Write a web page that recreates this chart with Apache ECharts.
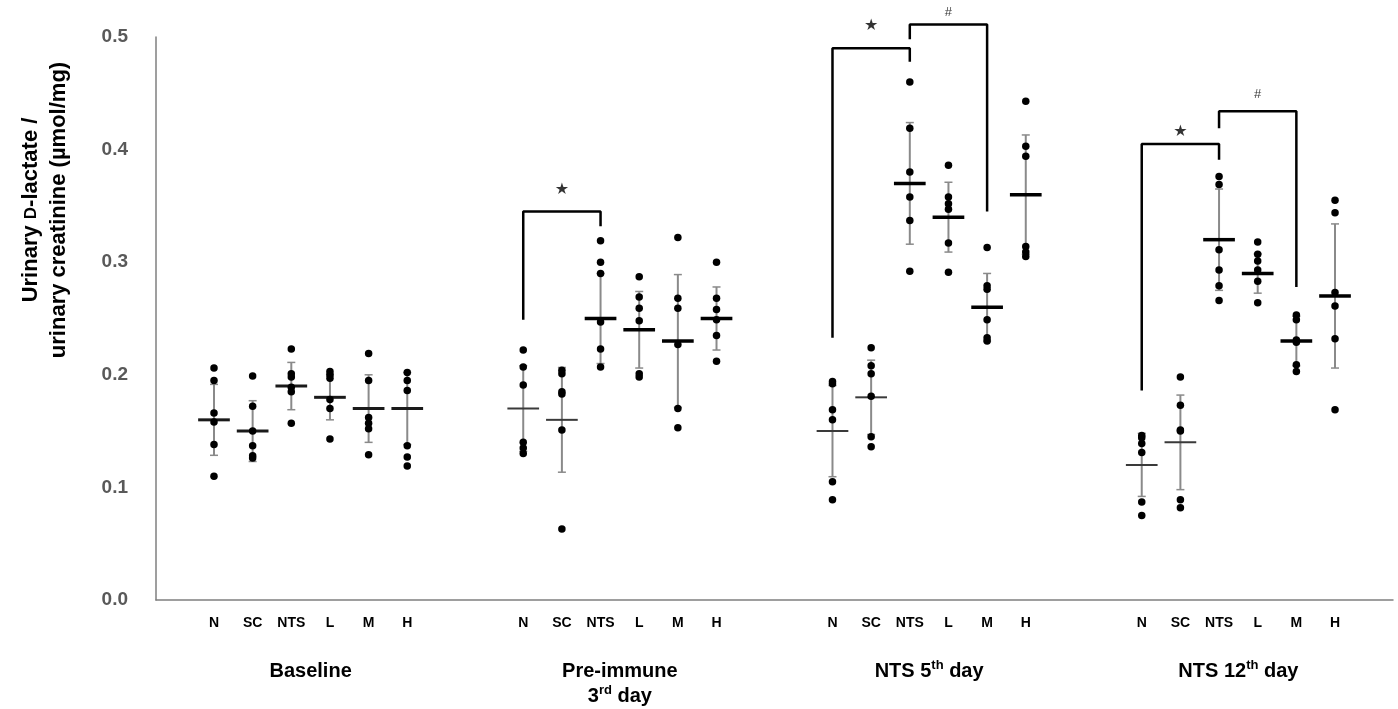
<!DOCTYPE html>
<html lang="en">
<head>
<meta charset="UTF-8">
<title>Urinary D-lactate</title>
<script src="https://cdn.jsdelivr.net/npm/echarts@6/dist/echarts.min.js"></script>
</head>
<body style="margin:0;background:#fff">
<div id="chart" style="width:1398px;height:709px;"></div>
<script type="text/javascript">
// group and column names
var groupNames = ['Baseline', 'Pre-immune\n3{sup|rd} day', 'NTS 5{sup|th} day', 'NTS 12{sup|th} day'];
var columnNames = ['N', 'SC', 'NTS', 'L', 'M', 'H'];

// mean and SD per column (N, SC, NTS, L, M, H) for each time point
var meanBaseline = [0.160, 0.150, 0.190, 0.180, 0.170, 0.170];
var sdBaseline   = [0.0315, 0.027, 0.021, 0.020, 0.030, 0.032];
var meanPre      = [0.170, 0.160, 0.250, 0.240, 0.230, 0.250];
var sdPre        = [0.038, 0.0465, 0.040, 0.034, 0.059, 0.028];
var meanDay5     = [0.150, 0.180, 0.370, 0.340, 0.260, 0.360];
var sdDay5       = [0.0405, 0.033, 0.054, 0.031, 0.030, 0.053];
var meanDay12    = [0.120, 0.140, 0.320, 0.290, 0.230, 0.270];
var sdDay12      = [0.028, 0.042, 0.045, 0.0175, 0.022, 0.064];

// individual animals
var dotsBaseline = [
	[0.206, 0.195, 0.166, 0.158, 0.138, 0.110],
	[0.199, 0.172, 0.150, 0.137, 0.128, 0.126],
	[0.223, 0.201, 0.198, 0.189, 0.185, 0.157],
	[0.203, 0.200, 0.197, 0.178, 0.170, 0.143],
	[0.219, 0.195, 0.162, 0.157, 0.152, 0.129],
	[0.202, 0.195, 0.186, 0.137, 0.127, 0.119]
];
var dotsPre = [
	[0.222, 0.207, 0.191, 0.140, 0.135, 0.130],
	[0.204, 0.201, 0.185, 0.183, 0.151, 0.063],
	[0.319, 0.300, 0.290, 0.247, 0.223, 0.207],
	[0.287, 0.269, 0.259, 0.248, 0.201, 0.198],
	[0.322, 0.268, 0.259, 0.227, 0.170, 0.153],
	[0.300, 0.268, 0.258, 0.249, 0.235, 0.212]
];
var dotsDay5 = [
	[0.194, 0.192, 0.169, 0.160, 0.105, 0.089],
	[0.224, 0.208, 0.201, 0.181, 0.145, 0.136],
	[0.460, 0.419, 0.380, 0.358, 0.337, 0.292],
	[0.386, 0.358, 0.352, 0.347, 0.317, 0.291],
	[0.313, 0.279, 0.276, 0.249, 0.233, 0.230],
	[0.443, 0.403, 0.394, 0.314, 0.309, 0.305]
];
var dotsDay12 = [
	[0.146, 0.144, 0.139, 0.131, 0.087, 0.075],
	[0.198, 0.173, 0.151, 0.150, 0.089, 0.082],
	[0.376, 0.369, 0.311, 0.293, 0.279, 0.266],
	[0.318, 0.307, 0.301, 0.293, 0.283, 0.264],
	[0.253, 0.249, 0.231, 0.229, 0.209, 0.203],
	[0.355, 0.344, 0.273, 0.261, 0.232, 0.169]
];

// significance brackets: group, left/right column, levels
var bracketGroup     = [1, 2, 2, 3, 3];
var bracketLeftCol   = [0, 0, 2, 0, 2];
var bracketRightCol  = [2, 2, 4, 2, 4];
var bracketTop       = [0.345, 0.490, 0.511, 0.405, 0.434];
var bracketLeftEnd   = [0.249, 0.233, 0.498, 0.186, 0.419];
var bracketRightEnd  = [0.332, 0.478, 0.345, 0.391, 0.278];
var bracketSymbol    = ['★', '★', '#', '★', '#'];
var bracketSymbolAt  = [0.364, 0.510, 0.522, 0.416, 0.449];

var means = [meanBaseline, meanPre, meanDay5, meanDay12];
var sds = [sdBaseline, sdPre, sdDay5, sdDay12];
var dots = [dotsBaseline, dotsPre, dotsDay5, dotsDay12];

// 32 slots on the x axis: 1 blank, then 6 columns + 2 blanks per group
var SLOTS = 32;
function slotOf(g, c) { return 1 + g * 8 + c; }

var slotKeys = [], slotLabels = [];
for (var i = 0; i < SLOTS; i++) { slotKeys.push('s' + i); slotLabels.push(''); }
for (var g = 0; g < 4; g++) {
	for (var c = 0; c < 6; c++) slotLabels[slotOf(g, c)] = columnNames[c];
}

var summaryData = [], dotData = [];
for (var g = 0; g < 4; g++) {
	for (var c = 0; c < 6; c++) {
		summaryData.push([slotOf(g, c), means[g][c], sds[g][c], g, c]);
		dots[g][c].forEach(function (v) { dotData.push([slotOf(g, c), v]); });
	}
}

var FONT = '"Liberation Sans", Arial, sans-serif';

var series = [];
series.push({
	type: 'custom',
	xAxisIndex: 0, yAxisIndex: 0,
	data: summaryData,
	encode: { x: 0, y: 1 },
	clip: false,
	z: 2,
	renderItem: function (params, api) {
		var x = api.value(0), m = api.value(1), s = api.value(2);
		var g = api.value(3), c = api.value(4);
		var p = api.coord([x, m]);
		var pt = api.coord([x, m + s]);
		var pb = api.coord([x, m - s]);
		var half = api.size([1, 0])[0] * 0.41;
		var cap = 4;
		var thin = g > 0 && c < 2;
		var grey = '#8a8a8a';
		return {
			type: 'group',
			children: [
				{ type: 'line', shape: { x1: p[0], y1: pt[1], x2: p[0], y2: pb[1] }, style: { stroke: grey, lineWidth: 2 } },
				{ type: 'line', shape: { x1: p[0] - cap, y1: pt[1], x2: p[0] + cap, y2: pt[1] }, style: { stroke: grey, lineWidth: 1.5 } },
				{ type: 'line', shape: { x1: p[0] - cap, y1: pb[1], x2: p[0] + cap, y2: pb[1] }, style: { stroke: grey, lineWidth: 1.5 } },
				{ type: 'line', shape: { x1: p[0] - half, y1: p[1], x2: p[0] + half, y2: p[1] },
					style: { stroke: thin ? '#3a3a3a' : (g === 0 ? '#1a1a1a' : '#000'), lineWidth: thin ? 2 : (g === 0 ? 3 : 3.5) } }
			]
		};
	}
});

series.push({
	type: 'scatter',
	data: dotData,
	symbol: 'circle',
	symbolSize: 7.5,
	itemStyle: { color: '#000', opacity: 1 },
	z: 3
});

for (var b = 0; b < bracketGroup.length; b++) {
	var l = slotOf(bracketGroup[b], bracketLeftCol[b]);
	var r = slotOf(bracketGroup[b], bracketRightCol[b]);
	series.push({
		type: 'line',
		data: [[l, bracketLeftEnd[b]], [l, bracketTop[b]], [r, bracketTop[b]], [r, bracketRightEnd[b]]],
		symbol: 'none',
		clip: false,
		lineStyle: { color: '#000', width: 2.5 },
		z: 4
	});
}

var markData = [];
for (var b = 0; b < bracketGroup.length; b++) {
	var star = bracketSymbol[b] === '★';
	markData.push({
		value: [slotOf(bracketGroup[b], bracketLeftCol[b] + 1), bracketSymbolAt[b]],
		name: bracketSymbol[b],
		label: { fontSize: star ? 16 : 13, fontFamily: star ? '"DejaVu Sans"' : FONT }
	});
}
series.push({
	type: 'scatter',
	data: markData,
	symbolSize: 1,
	clip: false,
	itemStyle: { color: 'rgba(0,0,0,0)' },
	label: { show: true, position: 'inside', color: '#000', formatter: function (p) { return p.name; } },
	z: 5
});

var chart = echarts.init(document.getElementById('chart'));
chart.setOption({
	animation: false,
	backgroundColor: '#fff',
	textStyle: { fontFamily: FONT },
	grid: [
		{ left: 156, right: 5, top: 37, bottom: 109 },
		{ left: 156, right: 5, top: 37, bottom: 109 }
	],
	xAxis: [
		{
			type: 'category',
			gridIndex: 0,
			data: slotKeys,
			axisLine: { lineStyle: { color: '#7f7f7f', width: 1.5 } },
			axisTick: { show: false },
			axisLabel: {
				interval: 0, margin: 16, fontSize: 14, fontWeight: 'bold', color: '#000',
				formatter: function (v, idx) { return slotLabels[idx]; }
			}
		},
		{
			type: 'category',
			gridIndex: 1,
			data: groupNames,
			axisLine: { show: false },
			axisTick: { show: false },
			axisLabel: {
				interval: 0, margin: 60, fontSize: 20, fontWeight: 'bold', color: '#000',
				lineHeight: 25,
				rich: {
					sup: { fontSize: 13, fontWeight: 'bold', color: '#000', verticalAlign: 'top', lineHeight: 25 }
				}
			}
		}
	],
	yAxis: [
		{
			type: 'value',
			gridIndex: 0,
			min: 0, max: 0.5, interval: 0.1,
			axisLine: { show: true, lineStyle: { color: '#7f7f7f', width: 1.5 } },
			axisTick: { show: false },
			splitLine: { show: false },
			axisLabel: {
				margin: 28, fontSize: 19, fontWeight: 'bold', color: '#595959',
				formatter: function (v) { return v.toFixed(1); }
			}
		},
		{ type: 'value', gridIndex: 1, show: false, min: 0, max: 1 }
	],
	graphic: [{
		type: 'text',
		x: 45, y: 210,
		rotation: Math.PI / 2,
		style: {
			text: 'Urinary {s|D}-lactate /\nurinary creatinine (µmol/mg)',
			font: 'bold 22px ' + FONT,
			fill: '#000',
			align: 'center', verticalAlign: 'middle',
			textAlign: 'center', textVerticalAlign: 'middle',
			lineHeight: 28,
			rich: {
				s: { fontSize: 17, fontWeight: 'bold', fontFamily: FONT, fill: '#000', lineHeight: 28 }
			}
		}
	}],
	series: series
});
</script>
</body>
</html>
